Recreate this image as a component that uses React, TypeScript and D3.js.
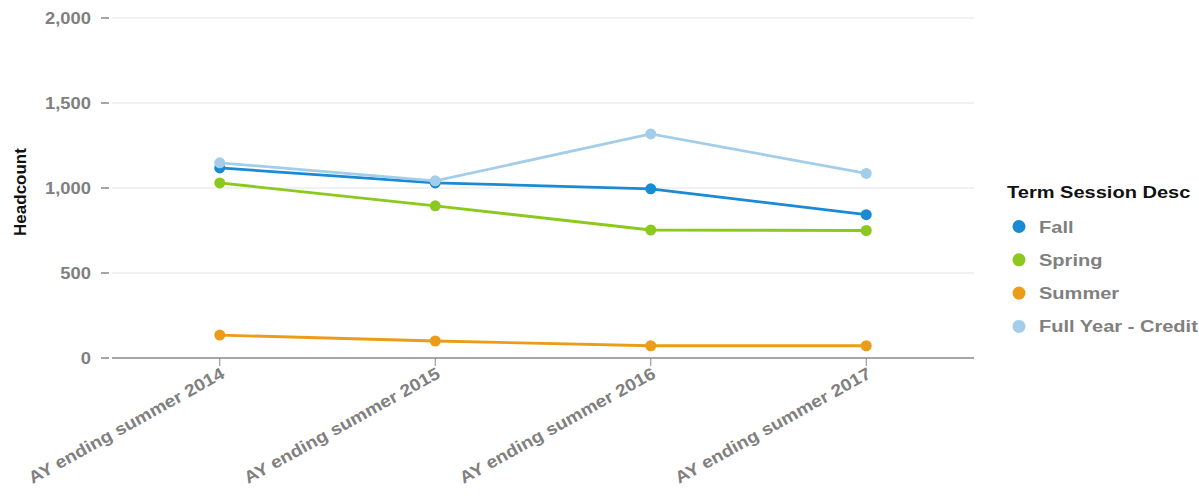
import React from "react";
import * as d3 from "d3";

const categories = ["AY ending summer 2014", "AY ending summer 2015", "AY ending summer 2016", "AY ending summer 2017"];
const fall = [1118, 1030, 995, 843];
const spring = [1030, 895, 753, 750];
const summer = [135, 100, 72, 72];
const fullYear = [1148, 1042, 1318, 1086];
const seriesNames = ["Fall", "Spring", "Summer", "Full Year - Credit"];
const seriesColors = ["#1a8ad4", "#8cc91e", "#eb9d19", "#a3cde9"];
const yTicks = [0, 500, 1000, 1500, 2000];

export default function App() {
  const W = 1199, H = 499;
  const left = 112, right = 974, top = 18, bottom = 358;
  const x = d3.scalePoint<string>().domain(categories).range([left, right]).padding(0.5);
  const y = d3.scaleLinear().domain([0, 2000]).range([bottom, top]);
  const fmt = d3.format(",");
  const data = [fall, spring, summer, fullYear];
  const line = d3.line<number>().x((_, i) => x(categories[i])!).y((v) => y(v));
  const order = [2, 1, 0, 3];
  const font = "Arial, 'Liberation Sans', sans-serif";
  return (
    <svg width={W} height={H} style={{ position: "absolute", left: 0, top: 0, fontFamily: font }}>
      <rect width={W} height={H} fill="#fff" />
      {yTicks.map((t) => (
        <g key={t}>
          {t !== 0 && <line x1={left} x2={right} y1={y(t)} y2={y(t)} stroke="#e3e3e3" strokeWidth={1} />}
          <line x1={101} x2={109} y1={y(t)} y2={y(t)} stroke="#888" strokeWidth={1.5} />
          <g transform={`translate(91,${y(t)}) scale(1.1,1)`}>
            <text x={0} y={0} dy="0.36em" textAnchor="end" fontSize={16.7} fontWeight="bold" fill="#808080">{fmt(t)}</text>
          </g>
        </g>
      ))}
      <line x1={left} x2={right} y1={bottom} y2={bottom} stroke="#888" strokeWidth={1.5} />
      {categories.map((c) => (
        <g key={c}>
          <line x1={x(c)} x2={x(c)} y1={bottom} y2={bottom + 8} stroke="#888" strokeWidth={1} />
          <g transform={`translate(${x(c)! + 6},${bottom + 19}) rotate(-29) scale(1.13,1)`}>
            <text x={0} y={0} textAnchor="end" fontSize={17} fontWeight="bold" fill="#808080">{c}</text>
          </g>
        </g>
      ))}
      <text transform={`translate(26,192) rotate(-90)`} textAnchor="middle" fontSize={17} fontWeight="bold" fill="#111">Headcount</text>
      {order.map((si) => (
        <g key={si}>
          <path d={line(data[si]) || ""} fill="none" stroke={seriesColors[si]} strokeWidth={2.8} />
          {data[si].map((v, i) => (
            <circle key={i} cx={x(categories[i])} cy={y(v)} r={5.5} fill={seriesColors[si]} />
          ))}
        </g>
      ))}
      <g transform="translate(1007,198) scale(1.2,1)">
        <text x={0} y={0} fontSize={16.7} fontWeight="bold" fill="#111">Term Session Desc</text>
      </g>
      {seriesNames.map((n, i) => (
        <g key={n} transform={`translate(0,${226.5 + i * 33.3})`}>
          <circle cx={1019} cy={0} r={6.5} fill={seriesColors[i]} />
          <g transform="translate(1039,0) scale(1.2,1)">
            <text x={0} y={0} dy="0.36em" fontSize={16.7} fontWeight="bold" fill="#808080">{n}</text>
          </g>
        </g>
      ))}
    </svg>
  );
}
